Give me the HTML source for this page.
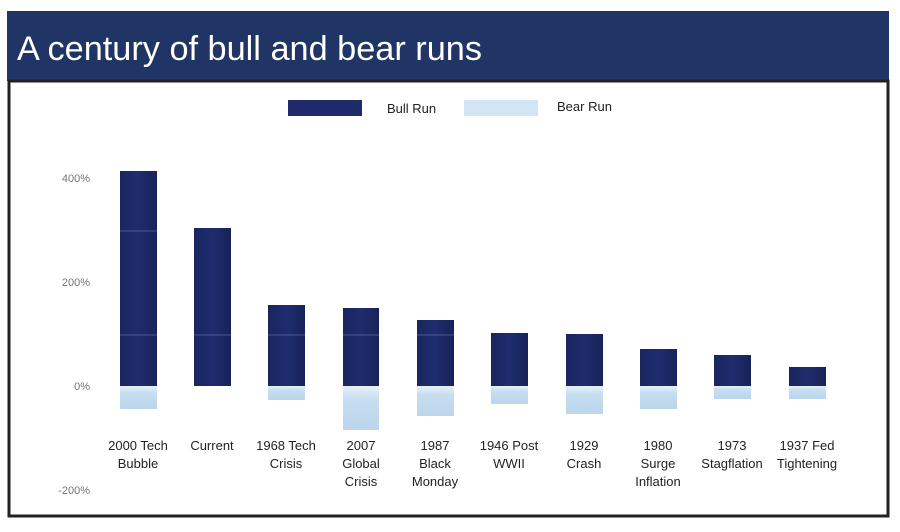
<!DOCTYPE html>
<html><head><meta charset="utf-8"><style>
html,body{margin:0;padding:0;background:#fff;width:900px;height:532px;overflow:hidden}
</style></head><body>
<svg width="900" height="532" xmlns="http://www.w3.org/2000/svg" font-family="Liberation Sans, sans-serif">
<defs>
<linearGradient id="bull" x1="0" y1="0" x2="1" y2="0">
<stop offset="0" stop-color="#1a2560"/><stop offset="0.5" stop-color="#1f2d6e"/><stop offset="1" stop-color="#18225a"/>
</linearGradient>
<linearGradient id="bear" x1="0" y1="0" x2="0" y2="1">
<stop offset="0" stop-color="#e6f1fa"/><stop offset="0.3" stop-color="#c7ddf0"/><stop offset="1" stop-color="#bcd5ec"/>
</linearGradient>
</defs>
<rect x="7" y="11" width="882" height="70" fill="#203466"/>
<text x="17" y="60" font-size="34" fill="#fff" textLength="465" lengthAdjust="spacingAndGlyphs">A century of bull and bear runs</text>
<rect x="9" y="81" width="879" height="435" fill="#fff" stroke="#222" stroke-width="3"/>
<rect x="288" y="100" width="74" height="16" fill="#1f2a6a"/>
<text x="387" y="113" font-size="13" fill="#222">Bull Run</text>
<rect x="464" y="100" width="74" height="16" fill="#d3e5f5"/>
<text x="557" y="111" font-size="13" fill="#222">Bear Run</text>
<g font-size="11" fill="#777" text-anchor="end">
<text x="90" y="182">400%</text>
<text x="90" y="286">200%</text>
<text x="90" y="390">0%</text>
<text x="90" y="494">-200%</text>
</g>
<g id="bars">
<rect x="120" y="171" width="37" height="215" fill="url(#bull)"/><rect x="120" y="386" width="37" height="23" fill="url(#bear)"/>
<rect x="194" y="228" width="37" height="158" fill="url(#bull)"/>
<rect x="268" y="305" width="37" height="81" fill="url(#bull)"/><rect x="268" y="386" width="37" height="14" fill="url(#bear)"/>
<rect x="343" y="308" width="36" height="78" fill="url(#bull)"/><rect x="343" y="386" width="36" height="44" fill="url(#bear)"/>
<rect x="417" y="320" width="37" height="66" fill="url(#bull)"/><rect x="417" y="386" width="37" height="30" fill="url(#bear)"/>
<rect x="491" y="333" width="37" height="53" fill="url(#bull)"/><rect x="491" y="386" width="37" height="18" fill="url(#bear)"/>
<rect x="566" y="334" width="37" height="52" fill="url(#bull)"/><rect x="566" y="386" width="37" height="28" fill="url(#bear)"/>
<rect x="640" y="349" width="37" height="37" fill="url(#bull)"/><rect x="640" y="386" width="37" height="23" fill="url(#bear)"/>
<rect x="714" y="355" width="37" height="31" fill="url(#bull)"/><rect x="714" y="386" width="37" height="13" fill="url(#bear)"/>
<rect x="789" y="367" width="37" height="19" fill="url(#bull)"/><rect x="789" y="386" width="37" height="13" fill="url(#bear)"/>
</g>
<g stroke="#6b78a8" stroke-width="1" opacity="0.6">
<line x1="120" y1="231" x2="157" y2="231"/>
<line x1="120" y1="335" x2="157" y2="335"/><line x1="194" y1="335" x2="231" y2="335"/>
<line x1="268" y1="335" x2="305" y2="335"/><line x1="343" y1="335" x2="379" y2="335"/><line x1="417" y1="335" x2="454" y2="335"/>
</g>
<g font-size="13" fill="#222" text-anchor="middle">
<text x="138" y="450">2000 Tech</text><text x="138" y="468">Bubble</text>
<text x="212" y="450">Current</text>
<text x="286" y="450">1968 Tech</text><text x="286" y="468">Crisis</text>
<text x="361" y="450">2007</text><text x="361" y="468">Global</text><text x="361" y="486">Crisis</text>
<text x="435" y="450">1987</text><text x="435" y="468">Black</text><text x="435" y="486">Monday</text>
<text x="509" y="450">1946 Post</text><text x="509" y="468">WWII</text>
<text x="584" y="450">1929</text><text x="584" y="468">Crash</text>
<text x="658" y="450">1980</text><text x="658" y="468">Surge</text><text x="658" y="486">Inflation</text>
<text x="732" y="450">1973</text><text x="732" y="468">Stagflation</text>
<text x="807" y="450">1937 Fed</text><text x="807" y="468">Tightening</text>
</g>
</svg>
</body></html>
